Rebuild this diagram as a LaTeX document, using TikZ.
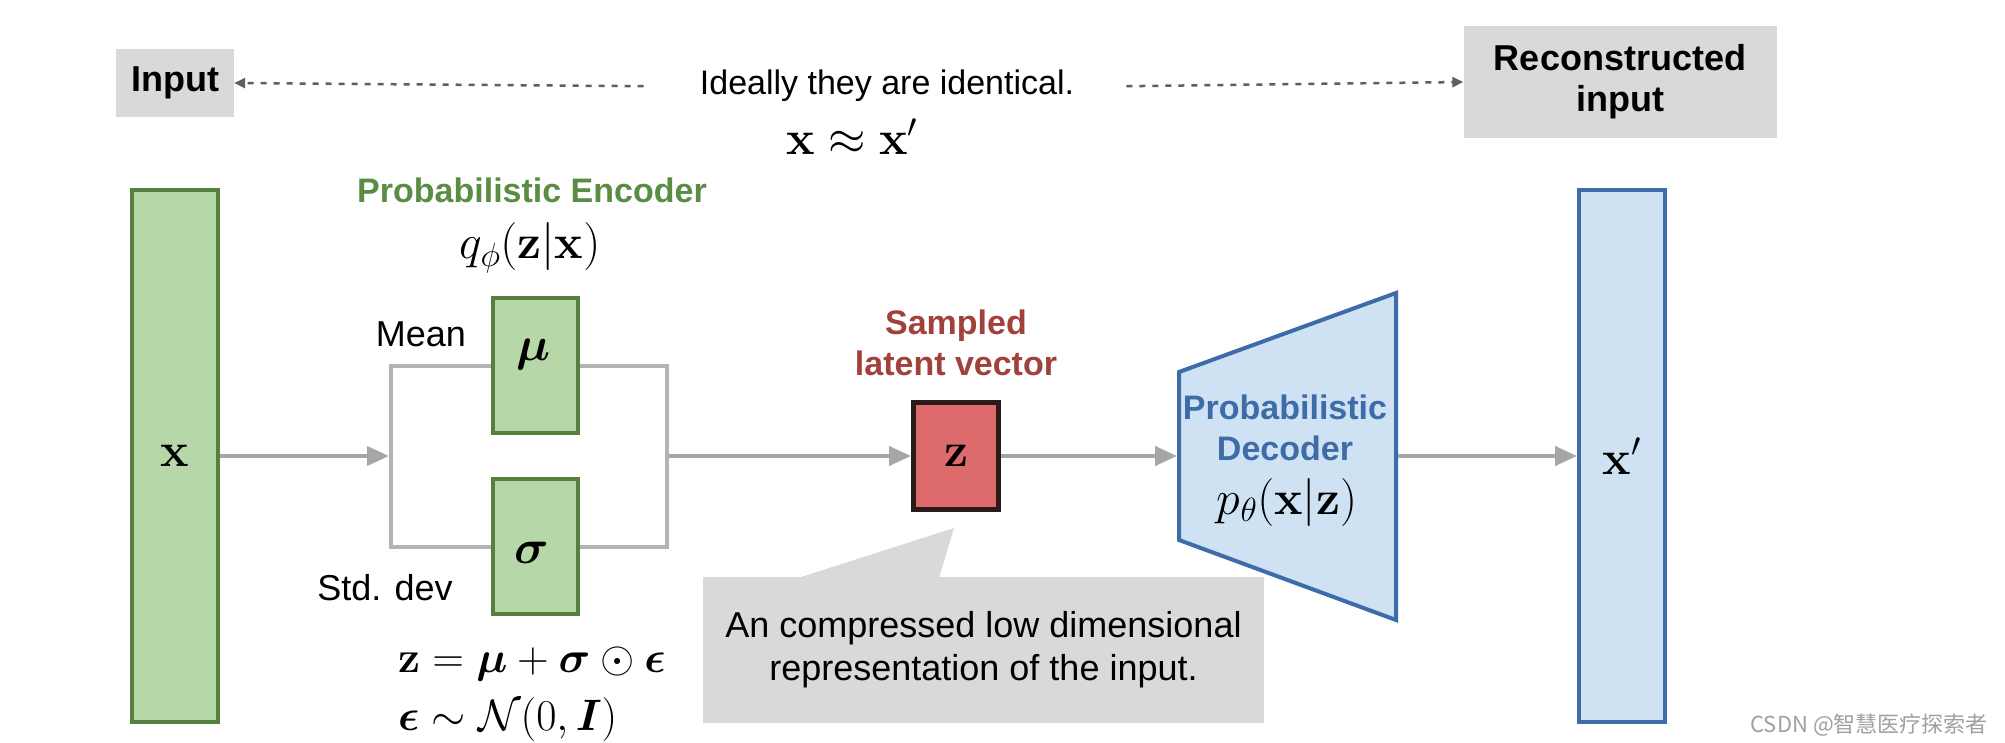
\RequirePackage{fix-cm}
\documentclass[tikz,border=0pt]{standalone}
\usepackage{amsmath,bm}
\usepackage[no-math]{fontspec}
\setmainfont{Liberation Sans}
\newfontfamily\cjk{Noto Sans CJK SC}
\usetikzlibrary{arrows.meta}
\definecolor{gfill}{HTML}{B6D7A8}
\definecolor{gborder}{HTML}{55803F}
\definecolor{gtext}{HTML}{5A8D44}
\definecolor{rfill}{HTML}{DD6B6B}
\definecolor{rborder}{HTML}{2A1A1A}
\definecolor{rtext}{HTML}{A0413C}
\definecolor{bfill}{HTML}{CFE2F3}
\definecolor{bborder}{HTML}{3D6CA8}
\definecolor{btext}{HTML}{3D6CA8}
\definecolor{agray}{HTML}{A6A6A6}
\definecolor{lgray}{HTML}{B3B3B3}
\definecolor{boxgray}{HTML}{D9D9D9}
\definecolor{dgray}{HTML}{5F5F5F}
\definecolor{wmgray}{HTML}{A0A0A0}
\tikzset{
  mathf/.style={font=\fontsize{44}{52}\selectfont, inner sep=0pt},
  mathl/.style={font=\fontsize{48}{56}\selectfont, inner sep=0pt},
  regf/.style={font=\fontsize{36}{43}\selectfont, inner sep=0pt},
  boldf/.style={font=\fontsize{34}{41}\selectfont\bfseries, inner sep=0pt},
  greenbox/.style={draw=gborder, fill=gfill, line width=4pt, inner sep=0pt},
  bluebox/.style={draw=bborder, fill=bfill, line width=4pt, inner sep=0pt},
  graylabel/.style={fill=boxgray, inner sep=0pt, font=\fontsize{36}{41}\selectfont\bfseries, align=center},
  garr/.style={draw=agray, line width=4pt, -{Triangle[length=22pt,width=19pt]}},
  darr/.style={draw=dgray, line width=2.5pt, dash pattern=on 6pt off 7pt, -{Triangle[length=11pt,width=10pt]}},
}
\begin{document}
\begin{tikzpicture}[x=1pt,y=-1pt]
\useasboundingbox[fill=white] (0,0) rectangle (2005,743);

% top row
\node[graylabel, minimum width=118, minimum height=68] (input) at (175,83) {Input};
\node[graylabel, minimum width=313, minimum height=112] (recon) at (1620,82) {Reconstructed\\input};
\node[regf, font=\fontsize{34}{40}\selectfont, anchor=base] (ideal) at (887,95) {Ideally they are identical.};
\node[mathl, anchor=base] (approx) at (852,155) {$\mathbf{x} \approx \mathbf{x}'$};
\draw[darr] ([xshift=-56pt]ideal.west) -- (input.east);
\draw[darr] ([xshift=52pt]ideal.east) -- (recon.west);

% encoder
\node[greenbox, minimum width=86, minimum height=531, mathl] (X) at (175,456) {$\mathbf{x}$};
\node[boldf, text=gtext, anchor=base] (enc) at (532,203) {Probabilistic Encoder};
\node[mathl, anchor=base] (qphi) at (530,259) {$q_\phi(\mathbf{z}|\mathbf{x})$};
\node[draw=lgray, line width=4pt, minimum width=276, minimum height=181, inner sep=0pt] (br) at (529,456) {};
\node[greenbox, minimum width=85, minimum height=135] (mu) at (535.5,365.5) {};
\node[greenbox, minimum width=85, minimum height=135] (sigma) at (535.5,546.5) {};
\node[mathl, anchor=base] (mut) at (533,360) {$\bm{\mu}$};
\node[mathl, anchor=base] (sigt) at (532,563) {$\bm{\sigma}$};
\node[regf, anchor=base] (mean) at (421,346) {Mean};
\node[regf, anchor=base] (std) at (385,600) {Std. dev};
\node[mathf, anchor=base west] (f1) at (398,672) {$\mathbf{z} = \bm{\mu} + \bm{\sigma} \odot \bm{\epsilon}$};
\node[mathf, anchor=base west] (f2) at (398,730) {$\bm{\epsilon} \sim \mathcal{N}(0, \bm{I})$};

% latent
\node[draw=rborder, fill=rfill, line width=5pt, minimum width=85, minimum height=107, inner sep=0pt, mathl] (z) at (956,456) {$\mathbf{z}$};
\node[boldf, text=rtext, align=center] (samp) at (956,343) {Sampled\\latent vector};

% callout
\fill[boxgray] (798,578) -- (954,528) -- (939,578) -- cycle;
\node[fill=boxgray, minimum width=561, minimum height=146, inner sep=0pt, align=center, font=\fontsize{36}{43}\selectfont] (callout) at (983.5,650) {An compressed low dimensional\\representation of the input.};

% decoder
\coordinate (decW) at (1179,456);
\coordinate (decE) at (1396,456);
\filldraw[draw=bborder, fill=bfill, line width=4pt] (1179,372) -- (1396,293) -- (1396,620) -- (1179,540) -- cycle;
\node[boldf, text=btext, align=center] (dect) at (1285,428) {Probabilistic\\Decoder};
\node[mathl, anchor=base] (pth) at (1287,514) {$p_\theta(\mathbf{x}|\mathbf{z})$};

% output
\node[bluebox, minimum width=86, minimum height=531, mathl] (xp) at (1622,456) {$\mathbf{x}'$};

% connectors
\draw[garr] (X) -- (br);
\draw[garr] (br) -- (z);
\draw[garr] (z) -- ([xshift=-2pt]decW);
\draw[garr] ([xshift=2pt]decE) -- (xp);

% watermark
\node[anchor=base east, font=\cjk\fontsize{22}{25}\selectfont, text=wmgray, inner sep=0pt] (wm) at (1988,732) {CSDN @智慧医疗探索者};
\end{tikzpicture}
\end{document}
